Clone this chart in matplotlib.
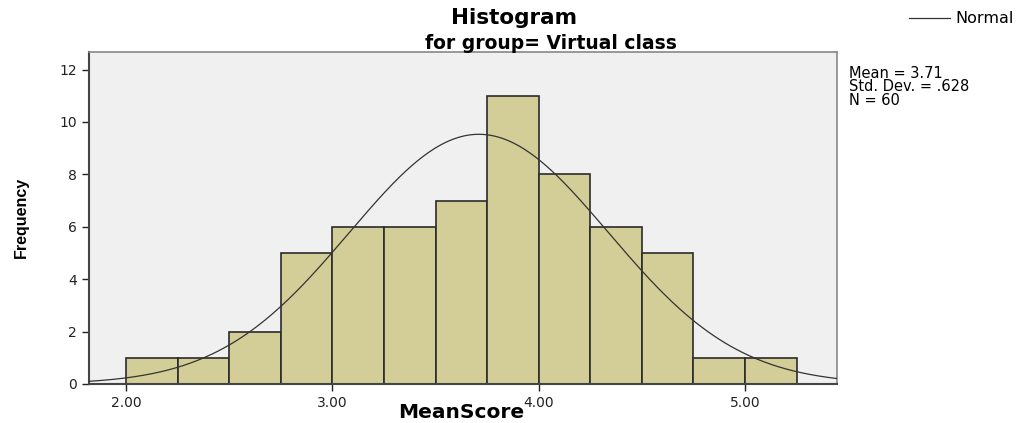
import numpy as np
import matplotlib.pyplot as plt
from matplotlib.lines import Line2D

# bin edges and counts
bin_edges = [2.00, 2.25, 2.50, 2.75, 3.00, 3.25, 3.50, 3.75, 4.00, 4.25, 4.50, 4.75, 5.00, 5.25]
counts = [1, 1, 2, 5, 6, 6, 7, 11, 8, 6, 5, 1, 1]
mean, sd, n = 3.71, 0.628, 60
x_ticks = [2.0, 3.0, 4.0, 5.0]
y_ticks = [0, 2, 4, 6, 8, 10, 12]

fig = plt.figure(figsize=(10.24, 4.23), dpi=100)
ax = fig.add_axes([0.0869, 0.0922, 0.7305, 0.7849])
ax.set_facecolor('#f0f0f0')

widths = np.diff(bin_edges)
ax.bar(bin_edges[:-1], counts, width=widths, align='edge',
       color='#d3ce97', edgecolor='#2b2b2b', linewidth=1.2, zorder=2)

# normal curve scaled to counts
xs = np.linspace(1.82, 5.446, 400)
bw = 0.25
ys = n * bw / (sd * np.sqrt(2 * np.pi)) * np.exp(-0.5 * ((xs - mean) / sd) ** 2)
ax.plot(xs, ys, color='#333333', linewidth=0.9, zorder=3)

ax.set_xlim(1.82, 5.446)
ax.set_ylim(0, 12.67)
ax.set_xticks(x_ticks)
ax.set_xticklabels([f'{v:.2f}' for v in x_ticks])
ax.set_yticks(y_ticks)
ax.tick_params(axis='both', labelsize=10, colors='#222222', direction='out', length=5, width=1)

for s in ['top', 'right']:
    ax.spines[s].set_color('#888888')
    ax.spines[s].set_linewidth(1.2)
for s in ['left', 'bottom']:
    ax.spines[s].set_color('#444444')
    ax.spines[s].set_linewidth(1.5)

# axis titles placed by hand like the SPSS output
fig.text(0.4505, 0.026, 'MeanScore', ha='center', va='center', fontsize=14.5, fontweight='bold')
fig.text(0.0205, 0.485, 'Frequency', ha='center', va='center', rotation=90,
         fontsize=11.5, fontweight='bold', family=['Liberation Sans', 'DejaVu Sans'])

fig.text(0.502, 0.957, 'Histogram', ha='center', va='center', fontsize=15.5, fontweight='bold')
fig.text(0.538, 0.898, 'for group= Virtual class', ha='center', va='center', fontsize=13.5, fontweight='bold')

# legend
fig.add_artist(Line2D([0.888, 0.928], [0.957, 0.957], color='#333333', linewidth=0.9))
fig.text(0.933, 0.957, 'Normal', ha='left', va='center', fontsize=11.5)

fig.text(0.829, 0.845, 'Mean = 3.71\nStd. Dev. = .628\nN = 60', ha='left', va='top',
         fontsize=10.5, linespacing=0.9)

fig.savefig('out.png', dpi=100)
